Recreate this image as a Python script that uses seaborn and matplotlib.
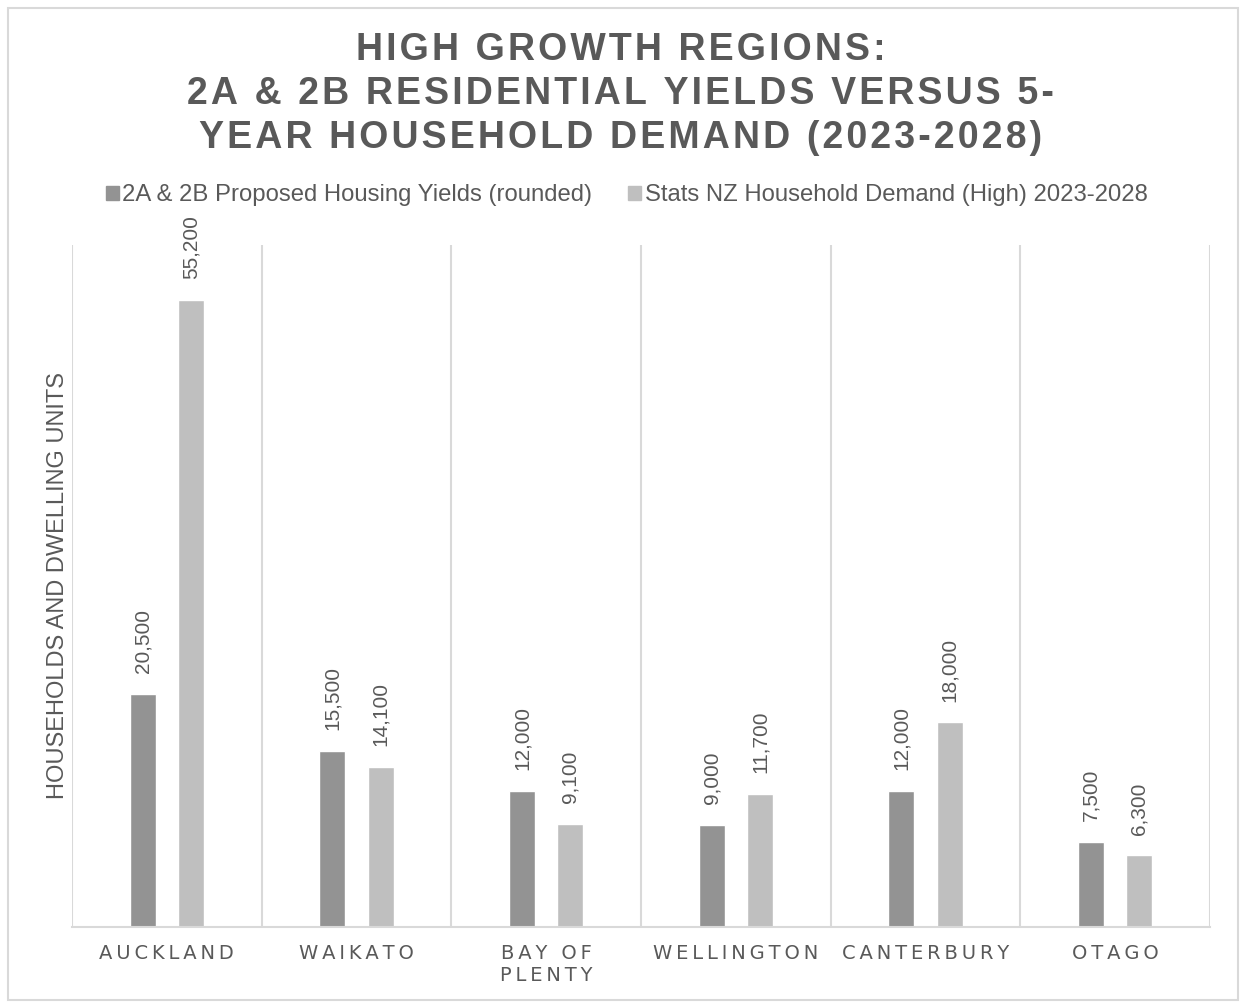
import matplotlib
matplotlib.use('Agg')
import matplotlib.pyplot as plt
import matplotlib.patches as mpatches
import seaborn as sns
import pandas as pd

# Data
regions = ['AUCKLAND', 'WAIKATO', 'BAY OF\nPLENTY', 'WELLINGTON', 'CANTERBURY', 'OTAGO']
yields_2a2b = [20500, 15500, 12000, 9000, 12000, 7500]
demand_high = [55200, 14100, 9100, 11700, 18000, 6300]
series = ['2A & 2B Proposed Housing Yields (rounded)',
          'Stats NZ Household Demand (High) 2023-2028']
colors = ['#939393', '#bfbfbf']
text_col = '#595959'

def spaced(s, sp='\u2009'):
    # fake letter spacing
    return '\n'.join(sp.join(line) for line in s.split('\n'))

df = pd.DataFrame({
    'region': regions * 2,
    'value': yields_2a2b + demand_high,
    'series': [series[0]] * len(regions) + [series[1]] * len(regions),
})

sns.set_style('white')
plt.rcParams['font.family'] = ['DejaVu Sans']

fig = plt.figure(figsize=(12.41, 10.06), dpi=100)
ax = fig.add_axes([0.058, 0.0785, 0.917, 0.678])

sns.barplot(data=df, x='region', y='value', hue='series', palette=colors,
            width=0.508, gap=0.46, errorbar=None, legend=False, ax=ax)

for cont in ax.containers:
    ax.bar_label(cont, labels=[f'{v:,.0f}' for v in cont.datavalues],
                 rotation=90, padding=15, color=text_col, fontsize=15,
                 family='Liberation Sans')

ax.set_ylim(0, 60000)
ax.set_xlim(-0.5, len(regions) - 0.5)
ax.set_yticks([])
ax.set_xticks(range(len(regions)))
ax.set_xticklabels([spaced(r) for r in regions], fontsize=14, color=text_col,
                   linespacing=1.25)
ax.set_xticks([i + 0.5 for i in range(-1, len(regions))], minor=True)
ax.tick_params(axis='x', which='both', length=0, pad=12)
ax.grid(axis='x', which='minor', color='#d9d9d9', linewidth=1.5)
ax.set_xlabel('')
ax.set_ylabel('HOUSEHOLDS AND DWELLING UNITS', fontsize=17, color=text_col,
              family='Liberation Sans', labelpad=2)
for side in ['top', 'right', 'left']:
    ax.spines[side].set_visible(False)
ax.spines['bottom'].set_color('#d9d9d9')
ax.spines['bottom'].set_linewidth(1.5)

fig.text(0.5, 0.9065,
         spaced('HIGH GROWTH REGIONS:\n2A & 2B RESIDENTIAL YIELDS VERSUS 5-\nYEAR HOUSEHOLD DEMAND (2023-2028)', '\u200a'),
         ha='center', va='center', fontsize=27, fontweight='bold',
         color=text_col, linespacing=1.3,
         family=['Liberation Sans', 'DejaVu Sans'])

handles = [mpatches.Patch(color=c, label=s) for c, s in zip(colors, series)]
leg = fig.legend(handles=handles, loc='center', bbox_to_anchor=(0.505, 0.806),
                 ncol=2, frameon=False, handlelength=0.55, handleheight=0.55,
                 handletextpad=0.15, columnspacing=1.5,
                 prop={'family': 'Liberation Sans', 'size': 17.2})
for t in leg.get_texts():
    t.set_color(text_col)

fig.add_artist(mpatches.Rectangle((8 / 1241, 6 / 1006), 1230 / 1241, 992 / 1006,
                                  transform=fig.transFigure, fill=False,
                                  edgecolor='#d9d9d9', linewidth=1.5))

plt.savefig('out.png', dpi=100)
